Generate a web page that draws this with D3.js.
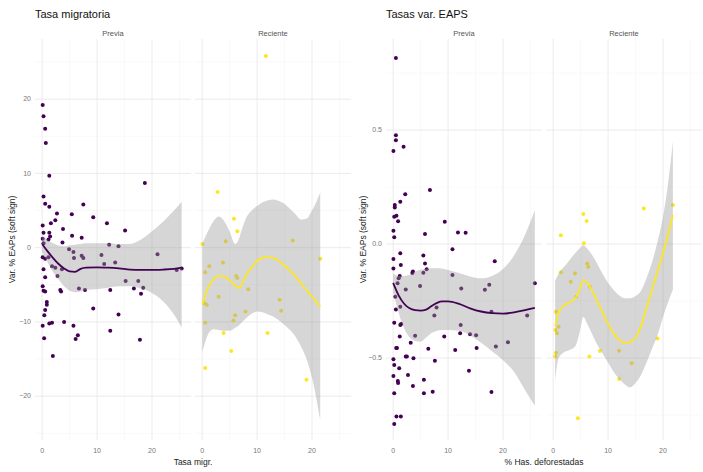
<!DOCTYPE html>
<html>
<head>
<meta charset="utf-8">
<script src="https://cdn.jsdelivr.net/npm/d3@7"></script>
<style>
  body { margin: 0; background: #fff; }
  svg { font-family: "Liberation Sans", Arial, sans-serif; }
</style>
</head>
<body>
<svg width="703" height="472"></svg>
<script>
const svg = d3.select("svg");

// DATA
const facets = ["Previa", "Reciente"];
const facetColors = ["#440154", "#FDE725"];
const xTicks = [0, 10, 20];
const xMinor = [5, 15, 25];
const migYTicks = [-20, -10, 0, 10, 20];
const migYMinor = [-25, -15, -5, 5, 15, 25];
const defYTicks = [-0.5, 0, 0.5];
const defYMinor = [-0.75, -0.25, 0.25, 0.75];

// [x, y] points : tasa migratoria vs var. % EAPs
const migPrevia = [
  [0.1, 19.2], [0.25, 17.7], [0.55, 16.0], [0.67, 14.1], [1.3, 9.7], [18.7, 8.7], [0.25, 6.9],
  [0.55, 5.9], [1.3, 5.5], [7.5, 5.8], [2.7, 4.6], [5.4, 4.5], [9.3, 4.1], [2.4, 3.7], [1.6, 3.3],
  [11.8, 3.3], [0.1, 3.0], [3.8, 2.5], [15.1, 2.3], [0.25, 2.0], [1.3, 2.0], [1.45, 1.5], [5.45, 1.6],
  [7.2, 1.35], [0.1, 1.2], [1.15, 1.1], [0.25, 0.6], [3.7, 0.7], [12.2, 0.4], [13.9, 0.2], [4.9, -0.2],
  [5.7, -0.6], [7.2, -1.1], [7.5, -1.4], [10.8, -1.0], [21.0, -0.9], [0.1, -1.3], [0.55, -1.5],
  [1.15, -1.3], [5.8, -1.4], [11.3, -2.2], [13.3, -2.0], [1.8, -2.5], [0.25, -2.9], [3.6, -2.9],
  [2.4, -2.7], [24.5, -3.0], [25.4, -2.8], [2.8, -3.8], [0.55, -4.0], [15.2, -4.5], [17.5, -4.5],
  [0.1, -5.2], [0.25, -5.8], [0.55, -5.9], [3.3, -5.7], [3.45, -5.9], [6.7, -5.5], [7.8, -5.7],
  [12.4, -5.7], [16.7, -5.5], [18.4, -5.4], [18.0, -6.2], [0.85, -7.3], [0.85, -7.7], [9.3, -8.2],
  [0.55, -8.4], [0.4, -9.1], [13.9, -9.0], [0.1, -10.5], [1.3, -10.2], [1.8, -10.1], [4.0, -10.0],
  [5.7, -10.5], [6.5, -11.8], [6.1, -12.3], [12.4, -11.2], [0.36, -12.2], [17.8, -12.4], [1.95, -14.6]
];
const migReciente = [
  [11.6, 25.8], [2.8, 7.5], [5.8, 3.9], [6.4, 2.2], [4.3, 0.85], [0.05, 0.5], [16.5, 0.95],
  [21.5, -1.5], [1.3, -2.5], [3.8, -2.0], [0.55, -3.3], [6.2, -3.8], [6.4, -4.1], [8.4, -5.6],
  [3.0, -6.6], [0.85, -7.7], [0.4, -7.5], [14.1, -7.0], [14.4, -8.5], [7.9, -8.6], [6.0, -9.1],
  [5.7, -9.8], [0.55, -10.1], [3.9, -11.5], [11.9, -11.5], [5.3, -13.9], [0.55, -16.2], [19.0, -17.8]
];

// [x, y] points : % has. deforestadas vs var. % EAPs
const defPrevia = [
  [0.5, 0.817], [0.5, 0.478], [0.5, 0.456], [1.9, 0.427], [0.05, 0.408], [2.2, 0.219], [6.7, 0.237],
  [1.3, 0.186], [0.3, 0.171], [0.3, 0.16], [0.2, 0.12], [0.6, 0.124], [0.9, 0.10], [9.4, 0.098],
  [0.05, 0.058], [5.8, 0.044], [11.8, 0.051], [13.2, 0.05], [0.2, 0.03], [1.3, -0.04], [5.5, -0.05],
  [10.8, -0.023], [0.05, -0.066], [18.5, -0.075], [0.05, -0.107], [1.4, -0.092], [5.8, -0.085],
  [6.1, -0.111], [1.2, -0.14], [1.0, -0.15], [3.5, -0.127], [3.6, -0.12], [5.5, -0.126], [10.8, -0.136],
  [0.8, -0.172], [4.9, -0.184], [2.3, -0.199], [12.4, -0.195], [16.7, -0.2], [17.5, -0.179],
  [25.8, -0.172], [0.4, -0.231], [1.3, -0.275], [0.5, -0.287], [7.9, -0.278], [7.5, -0.314],
  [17.9, -0.297], [24.4, -0.314], [0.2, -0.345], [1.45, -0.351], [1.3, -0.355], [12.3, -0.355],
  [1.2, -0.406], [4.0, -0.402], [9.3, -0.406], [12.2, -0.392], [14.0, -0.396], [15.1, -0.4],
  [3.2, -0.433], [20.9, -0.431], [0.55, -0.456], [0.7, -0.456], [6.4, -0.46], [11.3, -0.465],
  [15.2, -0.456], [18.7, -0.45], [2.3, -0.494], [2.5, -0.494], [3.7, -0.501], [0.05, -0.506],
  [7.6, -0.512], [0.2, -0.531], [1.1, -0.545], [13.8, -0.556], [0.05, -0.579], [0.85, -0.601],
  [0.9, -0.61], [2.7, -0.575], [5.6, -0.596], [3.6, -0.623], [0.2, -0.655], [5.6, -0.655],
  [7.2, -0.648], [17.9, -0.649], [0.6, -0.757], [1.4, -0.757], [0.2, -0.79]
];
const defReciente = [
  [5.5, 0.132], [6.1, 0.101], [1.4, 0.039], [16.5, 0.156], [21.8, 0.171], [5.6, 0.003], [6.2, -0.085],
  [6.4, -0.1], [1.4, -0.124], [4.0, -0.129], [3.2, -0.165], [6.7, -0.187], [4.2, -0.231], [0.5, -0.297],
  [1.0, -0.363], [0.4, -0.377], [0.7, -0.392], [19.0, -0.414], [8.5, -0.469], [12.0, -0.468],
  [0.5, -0.477], [0.36, -0.494], [6.6, -0.494], [14.3, -0.523], [12.0, -0.592], [4.5, -0.765]
];

const migPreviaFit = [
  [0, 0.5, -0.6, 1.6], [1, -0.5, -2.0, 1.0], [2, -1.4, -3.3, 0.6], [3, -2.2, -4.3, 0.3],
  [4, -2.8, -5.2, 0.2], [5, -3.2, -5.8, 0.3], [6, -3.25, -6.0, 0.4], [7, -2.85, -5.9, 0.5],
  [8, -2.7, -5.7, 0.6], [10, -2.65, -5.6, 0.6], [12, -2.7, -5.4, 0.6], [14, -2.8, -5.2, 0.5],
  [16, -2.95, -5.2, 0.5], [18, -3.0, -5.5, 1.1], [20, -3.0, -6.1, 2.2], [22, -2.95, -7.2, 3.5],
  [24, -2.85, -9.0, 5.0], [25.4, -2.7, -10.8, 6.2]
];
const migRecienteFit = [
  [0.05, -7.6, -14.0, 0.6], [1, -5.5, -11.8, 2.1], [2, -4.3, -11.0, 3.5], [3, -3.8, -11.1, 4.2],
  [4, -3.9, -11.2, 3.6], [5, -4.4, -11.2, 2.2], [6, -5.1, -10.8, 0.5], [6.6, -5.4, -10.5, 1.0],
  [7.3, -4.8, -10.0, 2.6], [8, -3.7, -9.5, 4.0], [9, -2.7, -8.9, 5.0], [10, -1.8, -8.6, 5.6],
  [11, -1.35, -8.7, 6.1], [12, -1.2, -9.0, 6.4], [13, -1.4, -9.3, 6.5], [14, -1.8, -9.8, 6.3],
  [15, -2.4, -10.4, 5.9], [16, -3.1, -11.1, 5.2], [17, -3.9, -12.0, 4.5], [18, -4.8, -13.3, 3.8],
  [19, -5.7, -15.0, 3.9], [20, -6.6, -17.5, 5.0], [21.5, -7.9, -23.2, 7.4]
];
const defPreviaFit = [
  [0, -0.17, -0.21, -0.13], [1, -0.225, -0.30, -0.14], [2, -0.262, -0.37, -0.14], [3, -0.282, -0.41, -0.135],
  [4, -0.29, -0.425, -0.12], [5, -0.292, -0.428, -0.113], [6, -0.288, -0.41, -0.108], [7, -0.272, -0.39, -0.106],
  [8, -0.258, -0.38, -0.106], [9, -0.252, -0.377, -0.108], [10, -0.252, -0.377, -0.114], [12, -0.263, -0.38, -0.127],
  [14, -0.282, -0.40, -0.142], [16, -0.296, -0.433, -0.15], [18, -0.303, -0.47, -0.14], [20, -0.305, -0.51, -0.11],
  [22, -0.30, -0.56, -0.05], [24, -0.29, -0.64, 0.04], [25.8, -0.28, -0.71, 0.15]
];
const defRecienteFit = [
  [0.36, -0.36, -0.6, -0.16], [1, -0.3, -0.5, -0.13], [2, -0.27, -0.475, -0.1], [3, -0.255, -0.465, -0.07],
  [4, -0.24, -0.45, -0.04], [4.8, -0.2, -0.39, -0.02], [5.5, -0.158, -0.32, -0.005], [6.2, -0.17, -0.35, -0.02],
  [7, -0.2, -0.39, -0.045], [8, -0.25, -0.44, -0.085], [9, -0.3, -0.48, -0.13], [10, -0.35, -0.52, -0.17],
  [11, -0.39, -0.56, -0.2], [12, -0.42, -0.59, -0.225], [13, -0.433, -0.615, -0.238], [14, -0.43, -0.629, -0.238],
  [15, -0.41, -0.61, -0.228], [16, -0.36, -0.575, -0.205], [17, -0.28, -0.52, -0.15], [18, -0.2, -0.46, -0.08],
  [19, -0.12, -0.4, 0.01], [20, -0.04, -0.32, 0.12], [21, 0.05, -0.25, 0.28], [21.8, 0.127, -0.2, 0.45]
];

// LAYOUT
const panelTop = 39, panelBottom = 440;
const panelX = [[35, 191], [195, 351]];
const xDomain = [-1.3, 27.1];

const plots = [
  { ox: 0, title: "Tasa migratoria", xTitle: "Tasa migr.", yDomain: [-25.9, 28.1],
    yTicks: migYTicks, yMinor: migYMinor, fmt: d3.format("d"),
    points: [migPrevia, migReciente], fits: [migPreviaFit, migRecienteFit] },
  { ox: 351, title: "Tasas var. EAPS", xTitle: "% Has. deforestadas", yDomain: [-0.86, 0.90],
    yTicks: defYTicks, yMinor: defYMinor, fmt: d3.format(".1f"),
    points: [defPrevia, defReciente], fits: [defPreviaFit, defRecienteFit] }
];

plots.forEach(p => {
  const g = svg.append("g");

  // TITLE
  g.append("text")
    .attr("x", p.ox + 35)
    .attr("y", 18)
    .attr("font-size", "11px")
    .attr("fill", "#111")
    .text(p.title);

  // AXIS TITLES
  g.append("text")
    .attr("transform", `translate(${p.ox + 12},${(panelTop + panelBottom) / 2}) rotate(-90)`)
    .attr("text-anchor", "middle")
    .attr("dy", "0.35em")
    .attr("font-size", "8.5px")
    .attr("fill", "#222")
    .text("Var. % EAPs (soft sign)");

  g.append("text")
    .attr("x", p.ox + (panelX[0][0] + panelX[1][1]) / 2)
    .attr("y", 465)
    .attr("text-anchor", "middle")
    .attr("font-size", "8.5px")
    .attr("fill", "#222")
    .text(p.xTitle);

  const yScale = d3.scaleLinear().domain(p.yDomain).range([panelBottom, panelTop]);

  // Y TICK LABELS
  g.selectAll("text.ytick")
    .data(p.yTicks)
    .enter()
    .append("text")
    .attr("class", "ytick")
    .attr("x", p.ox + panelX[0][0] - 4)
    .attr("y", d => yScale(d))
    .attr("dy", "0.32em")
    .attr("text-anchor", "end")
    .attr("font-size", "7px")
    .attr("fill", "#777")
    .text(d => p.fmt(d));

  facets.forEach((f, i) => {
    const xScale = d3.scaleLinear().domain(xDomain)
      .range([p.ox + panelX[i][0], p.ox + panelX[i][1]]);
    const panel = g.append("g");
    const x0 = p.ox + panelX[i][0], x1 = p.ox + panelX[i][1];

    // GRID
    panel.selectAll("line.ymin").data(p.yMinor.filter(d => d > p.yDomain[0] && d < p.yDomain[1]))
      .enter().append("line")
      .attr("x1", x0).attr("x2", x1)
      .attr("y1", d => yScale(d)).attr("y2", d => yScale(d))
      .attr("stroke", "#f2f2f2").attr("stroke-width", 0.5);
    panel.selectAll("line.xmin").data(xMinor)
      .enter().append("line")
      .attr("y1", panelTop).attr("y2", panelBottom)
      .attr("x1", d => xScale(d)).attr("x2", d => xScale(d))
      .attr("stroke", "#f2f2f2").attr("stroke-width", 0.5);
    panel.selectAll("line.ymaj").data(p.yTicks)
      .enter().append("line")
      .attr("x1", x0).attr("x2", x1)
      .attr("y1", d => yScale(d)).attr("y2", d => yScale(d))
      .attr("stroke", "#e6e6e6").attr("stroke-width", 0.8);
    panel.selectAll("line.xmaj").data(xTicks)
      .enter().append("line")
      .attr("y1", panelTop).attr("y2", panelBottom)
      .attr("x1", d => xScale(d)).attr("x2", d => xScale(d))
      .attr("stroke", "#e6e6e6").attr("stroke-width", 0.8);

    // STRIP
    panel.append("text")
      .attr("x", (x0 + x1) / 2)
      .attr("y", 36)
      .attr("text-anchor", "middle")
      .attr("font-size", "7.5px")
      .attr("fill", "#555")
      .text(f);

    // X TICK LABELS
    panel.selectAll("text.xtick").data(xTicks)
      .enter().append("text")
      .attr("x", d => xScale(d))
      .attr("y", 453)
      .attr("text-anchor", "middle")
      .attr("font-size", "7px")
      .attr("fill", "#777")
      .text(d => d);

    // POINTS
    panel.selectAll("circle").data(p.points[i])
      .enter().append("circle")
      .attr("cx", d => xScale(d[0]))
      .attr("cy", d => yScale(d[1]))
      .attr("r", 2)
      .attr("fill", facetColors[i]);

    // RIBBON
    const area = d3.area()
      .x(d => xScale(d[0]))
      .y0(d => yScale(d[2]))
      .y1(d => yScale(d[3]))
      .curve(d3.curveMonotoneX);
    panel.append("path")
      .datum(p.fits[i])
      .attr("d", area)
      .attr("fill", "#999")
      .attr("fill-opacity", 0.4);

    // SMOOTH LINE
    const line = d3.line()
      .x(d => xScale(d[0]))
      .y(d => yScale(d[1]))
      .curve(d3.curveMonotoneX);
    panel.append("path")
      .datum(p.fits[i])
      .attr("d", line)
      .attr("fill", "none")
      .attr("stroke", facetColors[i])
      .attr("stroke-width", 1.8);
  });
});
</script>
</body>
</html>
